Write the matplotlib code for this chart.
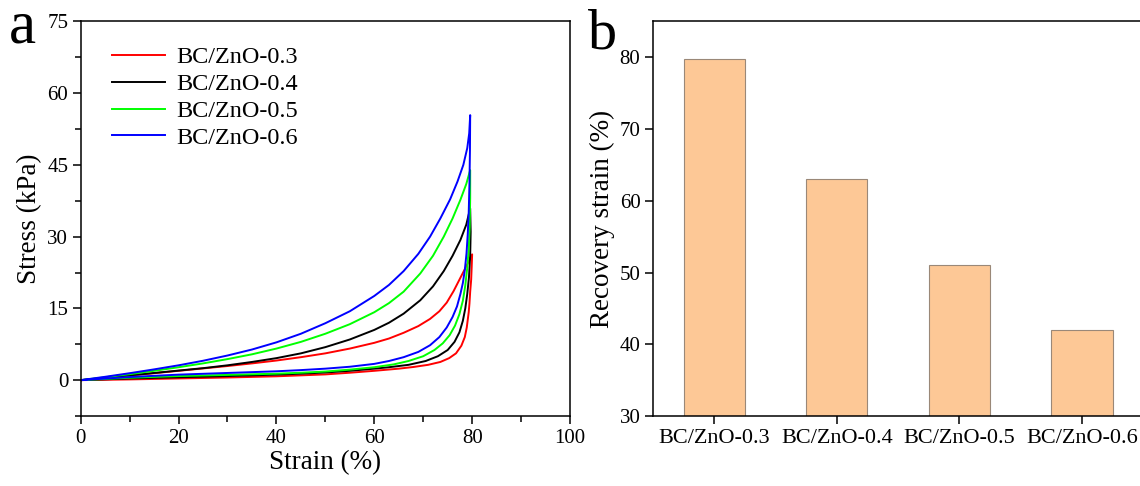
import matplotlib
matplotlib.use("Agg")
import matplotlib.pyplot as plt
from matplotlib.ticker import MultipleLocator

plt.rcParams['font.family'] = ['Liberation Serif', 'DejaVu Serif']

# ---- panel a: compression loops (loading branch then unloading branch) ----
labels = ['BC/ZnO-0.3', 'BC/ZnO-0.4', 'BC/ZnO-0.5', 'BC/ZnO-0.6']
colors = ['#ff0000', '#000000', '#00ff00', '#0000ff']

strain_03 = [0, 5, 10, 15, 20, 25, 30, 35, 40, 45, 50, 55, 60, 63, 66, 69, 71.4, 73.3, 74.8, 76.2, 77.2, 78.3, 79.2, 80,
             79.9, 79.8, 79.6, 79.45, 79.3, 78.9, 78.5, 77.8, 76.7, 75.3, 73.5, 71, 68, 65, 60, 55, 50, 45, 40, 30, 20, 10, 0]
stress_03 = [0, 0.45, 0.95, 1.45, 1.95, 2.45, 2.95, 3.5, 4.1, 4.8, 5.6, 6.6, 7.8, 8.7, 9.9, 11.3, 12.8, 14.4, 16.2, 18.6, 20.6, 22.8, 24.6, 26.3,
             23.5, 21.0, 18.5, 16.0, 14.2, 11.0, 9.0, 7.2, 5.6, 4.6, 3.8, 3.2, 2.75, 2.4, 1.95, 1.55, 1.2, 1.0, 0.8, 0.55, 0.35, 0.15, 0]

strain_04 = [0, 5, 10, 15, 20, 25, 30, 35, 40, 45, 50, 55, 60, 63, 66, 69.4, 72, 74.2, 76, 77.6, 78.8, 79.6,
             79.7, 79.6, 79.35, 79.0, 78.6, 78.1, 77.4, 76.4, 75, 73, 70.5, 67, 63, 60, 55, 50, 45, 40, 30, 20, 10, 0]
stress_04 = [0, 0.5, 1.0, 1.5, 2.0, 2.5, 3.1, 3.8, 4.6, 5.6, 6.9, 8.5, 10.5, 12.0, 13.9, 16.7, 19.6, 22.8, 26.0, 29.3, 32.5, 35.9,
             31.0, 26.0, 21.5, 18.0, 15.0, 12.4, 10.0, 8.0, 6.3, 5.0, 4.0, 3.2, 2.7, 2.4, 1.95, 1.6, 1.35, 1.15, 0.85, 0.6, 0.35, 0]

strain_05 = [0, 5, 10, 15, 20, 25, 30, 35, 40, 45, 50, 55, 60, 63, 66, 69.4, 72, 74.2, 76, 77.6, 78.8, 79.6,
             79.6, 79.5, 79.3, 79.0, 78.6, 78.1, 77.4, 76.5, 75.4, 74, 72.3, 70, 67, 64, 60, 55, 50, 45, 40, 30, 20, 10, 0]
stress_05 = [0, 0.6, 1.25, 1.95, 2.7, 3.5, 4.4, 5.4, 6.6, 8.0, 9.7, 11.7, 14.2, 16.1, 18.5, 22.3, 26.0, 30.0, 33.8, 37.7, 41.0, 43.9,
             38.0, 32.0, 27.5, 23.5, 19.8, 16.6, 13.8, 11.4, 9.4, 7.7, 6.3, 5.0, 4.0, 3.3, 2.7, 2.2, 1.8, 1.55, 1.35, 1.1, 0.85, 0.5, 0]

strain_06 = [0, 5, 10, 15, 20, 25, 30, 35, 40, 45, 50, 55, 60, 63, 66, 69, 71.4, 73.5, 75.5, 77, 78.2, 79, 79.4, 79.6,
             79.55, 79.45, 79.3, 79.1, 78.85, 78.5, 78.1, 77.6, 76.9, 76, 74.8, 73.3, 71.4, 69, 66, 63, 60, 55, 50, 45, 40, 30, 20, 10, 0]
stress_06 = [0, 0.7, 1.45, 2.25, 3.1, 4.05, 5.15, 6.4, 7.9, 9.7, 11.9, 14.4, 17.6, 19.9, 22.8, 26.4, 30.0, 33.8, 37.8, 41.5, 45.0, 48.5, 51.6, 55.4,
             48.0, 41.0, 35.0, 30.5, 26.5, 23.0, 20.3, 18.0, 15.4, 13.2, 11.0, 9.0, 7.3, 5.9, 4.8, 4.0, 3.4, 2.8, 2.4, 2.1, 1.85, 1.5, 1.15, 0.65, 0]

strains = [strain_03, strain_04, strain_05, strain_06]
stresses = [stress_03, stress_04, stress_05, stress_06]

# ---- panel b: recovery strain ----
samples = ['BC/ZnO-0.3', 'BC/ZnO-0.4', 'BC/ZnO-0.5', 'BC/ZnO-0.6']
recovery = [79.7, 63.0, 51.0, 42.0]

fig = plt.figure(figsize=(11.4, 4.86), dpi=100)
ax1 = fig.add_axes([0.0708, 0.144, 0.4292, 0.812])
ax2 = fig.add_axes([0.5728, 0.144, 0.4300, 0.812])

for s, p, c, lab in zip(strains, stresses, colors, labels):
    ax1.plot(s, p, color=c, lw=1.4, label=lab, solid_joinstyle='round')

ax1.set_xlim(0, 100)
ax1.set_ylim(-7.5, 75)
ax1.xaxis.set_major_locator(MultipleLocator(20))
ax1.xaxis.set_minor_locator(MultipleLocator(10))
ax1.yaxis.set_major_locator(MultipleLocator(15))
ax1.yaxis.set_minor_locator(MultipleLocator(7.5))
ax1.set_xlabel('Strain (%)', fontsize=19.5, labelpad=2)
ax1.set_ylabel('Stress (kPa)', fontsize=19.5, labelpad=4)
ax1.legend(loc='upper left', bbox_to_anchor=(0.064, 0.937), frameon=False,
           fontsize=17.5, labelspacing=0.2, handlelength=2.2, handletextpad=0.45,
           borderpad=0, borderaxespad=0)

ax2.bar(range(len(samples)), recovery, width=0.5, bottom=0,
        color='#fdc896', edgecolor='#9a8878', linewidth=0.8)
ax2.set_xlim(-0.5, 3.5)
ax2.set_ylim(30, 85)
ax2.set_xticks(range(len(samples)))
ax2.set_xticklabels(samples, fontsize=16)
ax2.yaxis.set_major_locator(MultipleLocator(10))
ax2.set_ylabel('Recovery strain (%)', fontsize=19.5, labelpad=3)

for ax in (ax1, ax2):
    for sp in ax.spines.values():
        sp.set_linewidth(1.1)
    ax.tick_params(which='major', direction='out', length=6, width=1.1, labelsize=15, pad=3)
    ax.tick_params(which='minor', direction='out', length=4, width=1.1)
    ax.tick_params(top=False, right=False, which='both')
ax2.tick_params(axis='x', labelsize=16)

fig.text(0.008, 0.912, 'a', fontsize=44, va='baseline', ha='left')
fig.text(0.516, 0.900, 'b', fontsize=42, va='baseline', ha='left')

fig.savefig('out.png', dpi=100)
